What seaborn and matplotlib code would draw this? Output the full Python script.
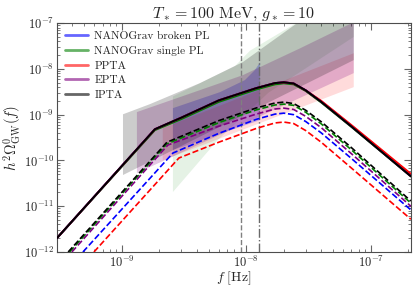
import numpy as np
import pandas as pd
import matplotlib
matplotlib.use("Agg")
import matplotlib.pyplot as plt
from matplotlib.lines import Line2D
import seaborn as sns

# PTA data sets (legend order)
names = ["NANOGrav broken PL", "NANOGrav single PL", "PPTA", "EPTA", "IPTA"]
colors = ["blue", "green", "red", "purple", "black"]

# solid spectra
f_solid = [3e-10, 1.84e-9, 3e-9, 6e-9, 1.2e-8, 1.7e-8, 2.0e-8, 2.4e-8, 3e-8, 4e-8, 7e-8, 2.1e-7]
om_solid_blue = [2e-12, 4.8e-10, 8.6e-10, 2.05e-9, 3.8e-9, 4.9e-9, 5.1e-9, 4.8e-9, 3.4e-9, 1.95e-9, 5.7e-10, 4.8e-11]
om_solid_green = [2e-12, 4.6e-10, 8.0e-10, 1.9e-9, 3.55e-9, 4.6e-9, 4.85e-9, 4.6e-9, 3.3e-9, 1.85e-9, 5.4e-10, 4.5e-11]
om_solid_red = [2e-12, 4.8e-10, 8.6e-10, 2.05e-9, 3.8e-9, 4.9e-9, 5.1e-9, 4.8e-9, 3.4e-9, 2.0e-9, 5.9e-10, 5.1e-11]
om_solid_purple = [2e-12, 4.8e-10, 8.6e-10, 2.05e-9, 3.8e-9, 4.9e-9, 5.1e-9, 4.8e-9, 3.4e-9, 1.9e-9, 5.5e-10, 4.5e-11]
om_solid_black = [2e-12, 4.8e-10, 8.6e-10, 2.05e-9, 3.8e-9, 4.9e-9, 5.1e-9, 4.8e-9, 3.4e-9, 1.9e-9, 5.5e-10, 4.5e-11]

# dashed spectra
f_dash_blue = [4.86e-10, 2.57e-9, 6e-9, 1.2e-8, 1.7e-8, 2.0e-8, 2.4e-8, 3e-8, 4e-8, 7e-8, 2.1e-7]
om_dash_blue = [1e-12, 1.45e-10, 3.9e-10, 7.9e-10, 1.03e-9, 1.08e-9, 1.0e-9, 7.1e-10, 4.0e-10, 1.1e-10, 8.3e-12]
f_dash_green = [3.8e-10, 2.3e-9, 6e-9, 1.2e-8, 1.7e-8, 2.0e-8, 2.4e-8, 3e-8, 4e-8, 7e-8, 2.1e-7]
om_dash_green = [1e-12, 2.3e-10, 6.7e-10, 1.27e-9, 1.63e-9, 1.7e-9, 1.6e-9, 1.13e-9, 6.3e-10, 1.7e-10, 1.17e-11]
f_dash_red = [5.96e-10, 2.87e-9, 6e-9, 1.2e-8, 1.7e-8, 2.0e-8, 2.4e-8, 3e-8, 4e-8, 7e-8, 2.1e-7]
om_dash_red = [1e-12, 1.13e-10, 2.5e-10, 5.0e-10, 6.6e-10, 6.9e-10, 6.4e-10, 4.5e-10, 2.5e-10, 6.8e-11, 5.2e-12]
f_dash_purple = [3.96e-10, 2.34e-9, 6e-9, 1.2e-8, 1.7e-8, 2.0e-8, 2.4e-8, 3e-8, 4e-8, 7e-8, 2.1e-7]
om_dash_purple = [1e-12, 2.17e-10, 5.6e-10, 1.03e-9, 1.33e-9, 1.39e-9, 1.3e-9, 9.2e-10, 5.2e-10, 1.4e-10, 1.0e-11]
f_dash_black = [3.7e-10, 2.3e-9, 6e-9, 1.2e-8, 1.7e-8, 2.0e-8, 2.4e-8, 3e-8, 4e-8, 7e-8, 2.1e-7]
om_dash_black = [1e-12, 2.5e-10, 7.4e-10, 1.4e-9, 1.8e-9, 1.88e-9, 1.75e-9, 1.25e-9, 7.0e-10, 1.9e-10, 1.3e-11]

# PTA signal bands: (f upper, omega upper, f lower, omega lower)
band_ipta_f_up = [1.02e-9, 1.68e-9, 4.24e-9, 9.37e-9, 2.69e-8, 7.3e-8]
band_ipta_up = [1.02e-9, 1.7e-9, 4.9e-9, 1.41e-8, 1.1e-7, 5e-7]
band_ipta_f_lo = [1.02e-9, 7.3e-8]
band_ipta_lo = [4.8e-11, 1.56e-8]

band_epta_f_up = [1.32e-9, 4.24e-9, 9.37e-9, 2.69e-8, 7.3e-8]
band_epta_up = [1.14e-9, 3.44e-9, 7.3e-9, 2.8e-8, 1.05e-7]
band_epta_f_lo = [1.32e-9, 7.3e-8]
band_epta_lo = [5.3e-11, 8.1e-9]

band_ppta_f_up = [2.13e-9, 7.3e-8]
band_ppta_up = [5.1e-10, 2.2e-8]
band_ppta_f_lo = [2.13e-9, 7.3e-8]
band_ppta_lo = [1.0e-10, 4.0e-9]

band_ng_single_f_up = [2.57e-9, 8.1e-9, 1.07e-8, 2.95e-8, 7.3e-8]
band_ng_single_up = [2.5e-9, 1.15e-8, 2.5e-8, 1.3e-7, 5e-7]
band_ng_single_f_lo = [2.57e-9, 5.9e-9, 1.5e-8, 7.3e-8]
band_ng_single_lo = [2.04e-11, 2.8e-10, 3e-9, 5e-8]

band_ng_broken_f_up = [2.57e-9, 6.12e-9, 9.74e-9, 1.17e-8, 1.29e-8]
band_ng_broken_up = [1.39e-9, 3.1e-9, 5.7e-9, 9.4e-9, 1.4e-8]
band_ng_broken_f_lo = [2.57e-9, 1.29e-8]
band_ng_broken_lo = [1.69e-10, 7.6e-10]

f_line_dashed = 9.1e-9
f_line_dashdot = 1.27e-8

sns.set_style("ticks")
plt.rcParams["font.family"] = "serif"
plt.rcParams["font.serif"] = ["cmr10", "DejaVu Serif"]
plt.rcParams["mathtext.fontset"] = "cm"
plt.rcParams["axes.formatter.use_mathtext"] = True

fig, ax = plt.subplots(figsize=(4.15, 2.93), dpi=100)
fig.subplots_adjust(left=0.137, right=0.990, bottom=0.140, top=0.921)

bands = [
    (band_ng_broken_f_up, band_ng_broken_up, band_ng_broken_f_lo, band_ng_broken_lo, "blue", 0.25),
    (band_ng_single_f_up, band_ng_single_up, band_ng_single_f_lo, band_ng_single_lo, "green", 0.1),
    (band_ppta_f_up, band_ppta_up, band_ppta_f_lo, band_ppta_lo, "red", 0.14),
    (band_epta_f_up, band_epta_up, band_epta_f_lo, band_epta_lo, "purple", 0.22),
    (band_ipta_f_up, band_ipta_up, band_ipta_f_lo, band_ipta_lo, "black", 0.2),
]
for fu, ou, fl, ol, c, a in bands:
    xs = np.concatenate([fu, fl[::-1]])
    ys = np.concatenate([ou, ol[::-1]])
    ax.fill(xs, ys, color=c, alpha=a, lw=0, zorder=1)

solid = [om_solid_blue, om_solid_green, om_solid_red, om_solid_purple, om_solid_black]
for om, c in zip(solid, colors):
    sns.lineplot(x=f_solid, y=om, color=c, lw=1.4, ax=ax, legend=False, zorder=3)

dashed = [(f_dash_blue, om_dash_blue), (f_dash_green, om_dash_green), (f_dash_red, om_dash_red),
          (f_dash_purple, om_dash_purple), (f_dash_black, om_dash_black)]
for (ff, om), c in zip(dashed, colors):
    sns.lineplot(x=ff, y=om, color=c, lw=1.2, ls="--", dashes=(3, 2), ax=ax, legend=False, zorder=3)

ax.axvline(f_line_dashed, color="gray", ls="--", lw=1, zorder=2)
ax.axvline(f_line_dashdot, color="dimgray", ls="-.", lw=1, zorder=2)

ax.set_xscale("log")
ax.set_yscale("log")
ax.set_xlim(3e-10, 2.1e-7)
ax.set_ylim(1e-12, 1e-7)
ax.set_xlabel(r"$f\ [\mathrm{Hz}]$", fontsize=10, labelpad=0)
ax.set_ylabel(r"$h^2\Omega^0_{\rm GW}(f)$", fontsize=10.5, labelpad=0)
ax.set_title(r"$T_* = 100\ \mathrm{MeV},\, g_* = 10$", fontsize=11.5, pad=4)
ax.tick_params(which="both", direction="in", top=True, right=True, labelsize=9, pad=2, color="0.4")
ax.tick_params(which="major", length=5)
ax.tick_params(which="minor", length=2.5)
for s in ax.spines.values():
    s.set_color("0.3")
    s.set_linewidth(0.8)

handles = [Line2D([], [], color=c, lw=2, alpha=0.6) for c in colors]
ax.legend(handles, names, loc="upper left", frameon=False, fontsize=8.2, handlelength=2.0,
          handletextpad=0.6, labelspacing=0.42, borderaxespad=0.3)

fig.savefig("out.png", dpi=100)
